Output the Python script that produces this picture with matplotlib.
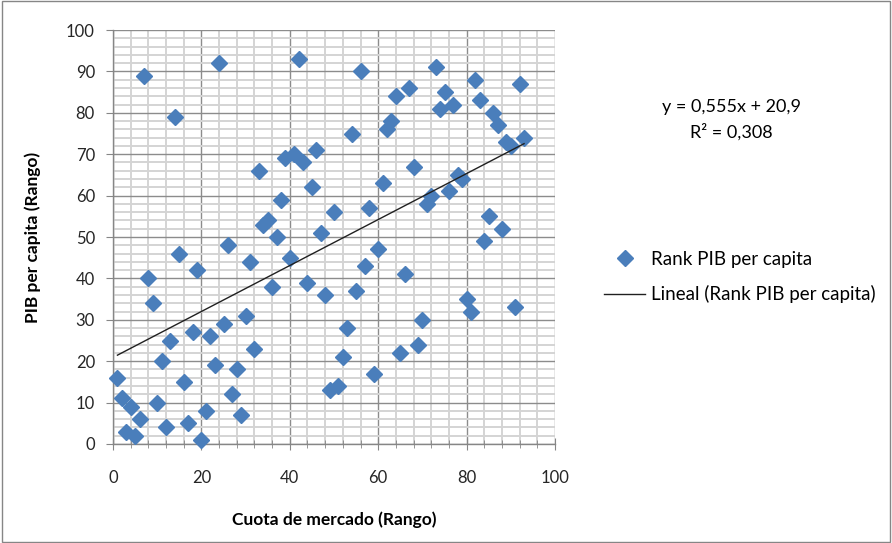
import numpy as np
import matplotlib
matplotlib.use("Agg")
import matplotlib.pyplot as plt
from matplotlib.lines import Line2D
from matplotlib.patches import Rectangle

plt.rcParams['font.family'] = ['Lato', 'DejaVu Sans']

cuota_rank = list(range(1, 94))
pib_rank = [16, 11, 3, 9, 2, 6, 89, 40, 34, 10, 20, 4, 25, 79, 46, 15, 5, 27, 42, 1,
            8, 26, 19, 92, 29, 48, 12, 18, 7, 31, 44, 23, 66, 53, 54, 38, 50, 59, 69, 45,
            70, 93, 68, 39, 62, 71, 51, 36, 13, 56, 14, 21, 28, 75, 37, 90, 43, 57, 17, 47,
            63, 76, 78, 84, 22, 41, 86, 67, 24, 30, 58, 60, 91, 81, 85, 61, 82, 65, 64, 35,
            32, 88, 83, 49, 55, 80, 77, 52, 73, 72, 33, 87, 74]
x_ticks = [0, 20, 40, 60, 80, 100]
y_ticks = [0, 10, 20, 30, 40, 50, 60, 70, 80, 90, 100]
series_name = "Rank PIB per capita"
trend_name = "Lineal (Rank PIB per capita)"
x_label = "Cuota de mercado (Rango)"
y_label = "PIB per capita (Rango)"

x = np.array(cuota_rank, dtype=float)
y = np.array(pib_rank, dtype=float)
slope, intercept = np.polyfit(x, y, 1)

fig = plt.figure(figsize=(8.92, 5.43), dpi=100)
ax = fig.add_axes([113 / 892, 1 - 444 / 543, (555 - 113) / 892, (444 - 30) / 543])

ax.set_xlim(0, 100)
ax.set_ylim(0, 100)
ax.set_xticks(x_ticks)
ax.set_yticks(y_ticks)
ax.set_xticks(np.arange(0, 101, 4), minor=True)
ax.set_yticks(np.arange(0, 101, 2), minor=True)
ax.grid(which='minor', color='#d4d4d4', linewidth=1.4, zorder=0)
ax.grid(which='major', color='#8c8c8c', linewidth=1.0, zorder=0.5)
ax.set_axisbelow(True)

for s in ['top', 'right']:
    ax.spines[s].set_visible(False)
for s in ['left', 'bottom']:
    ax.spines[s].set_color('#868686')
    ax.spines[s].set_linewidth(1.0)

ax.tick_params(axis='x', which='major', direction='inout', length=8, color='#868686', labelsize=12, pad=15, labelcolor='#262626')
ax.tick_params(axis='x', which='minor', direction='inout', length=6, color='#868686')
ax.tick_params(axis='y', which='major', direction='out', length=5, color='#868686', labelsize=12, pad=8, labelcolor='#262626')
ax.tick_params(axis='y', which='minor', length=0)

ax.plot(x, y, linestyle='none', marker='D', markersize=8, color='#4a7ebb',
        markeredgecolor='#4a7ebb', zorder=3, clip_on=False)
xt = np.array([x.min(), x.max()])
ax.plot(xt, slope * xt + intercept, color='#202020', linewidth=1.0, zorder=4)

ax.set_xlabel(x_label, fontsize=12.5, fontweight='bold', labelpad=18)
ax.set_ylabel(y_label, fontsize=12.5, fontweight='bold', labelpad=18)

fig.text(731 / 892, 1 - 107 / 543, "y = 0,555x + 20,9", ha='center', va='center', fontsize=13)
fig.text(731 / 892, 1 - 132 / 543, "R² = 0,308", ha='center', va='center', fontsize=13)

handles = [Line2D([], [], linestyle='none', marker='D', markersize=8, color='#4a7ebb'),
           Line2D([], [], color='#202020', linewidth=1.0)]
fig.legend(handles, [series_name, trend_name], loc='center left',
           bbox_to_anchor=(604 / 892, 1 - 277 / 543), frameon=False, fontsize=13.5,
           handlelength=2.2, handletextpad=0.3, labelspacing=0.95, borderaxespad=0, borderpad=0)

fig.patches.append(Rectangle((0.002, 0.002), 0.996, 0.996, transform=fig.transFigure,
                             fill=False, edgecolor='#868686', linewidth=1.0))

fig.savefig("out.png", dpi=100)
